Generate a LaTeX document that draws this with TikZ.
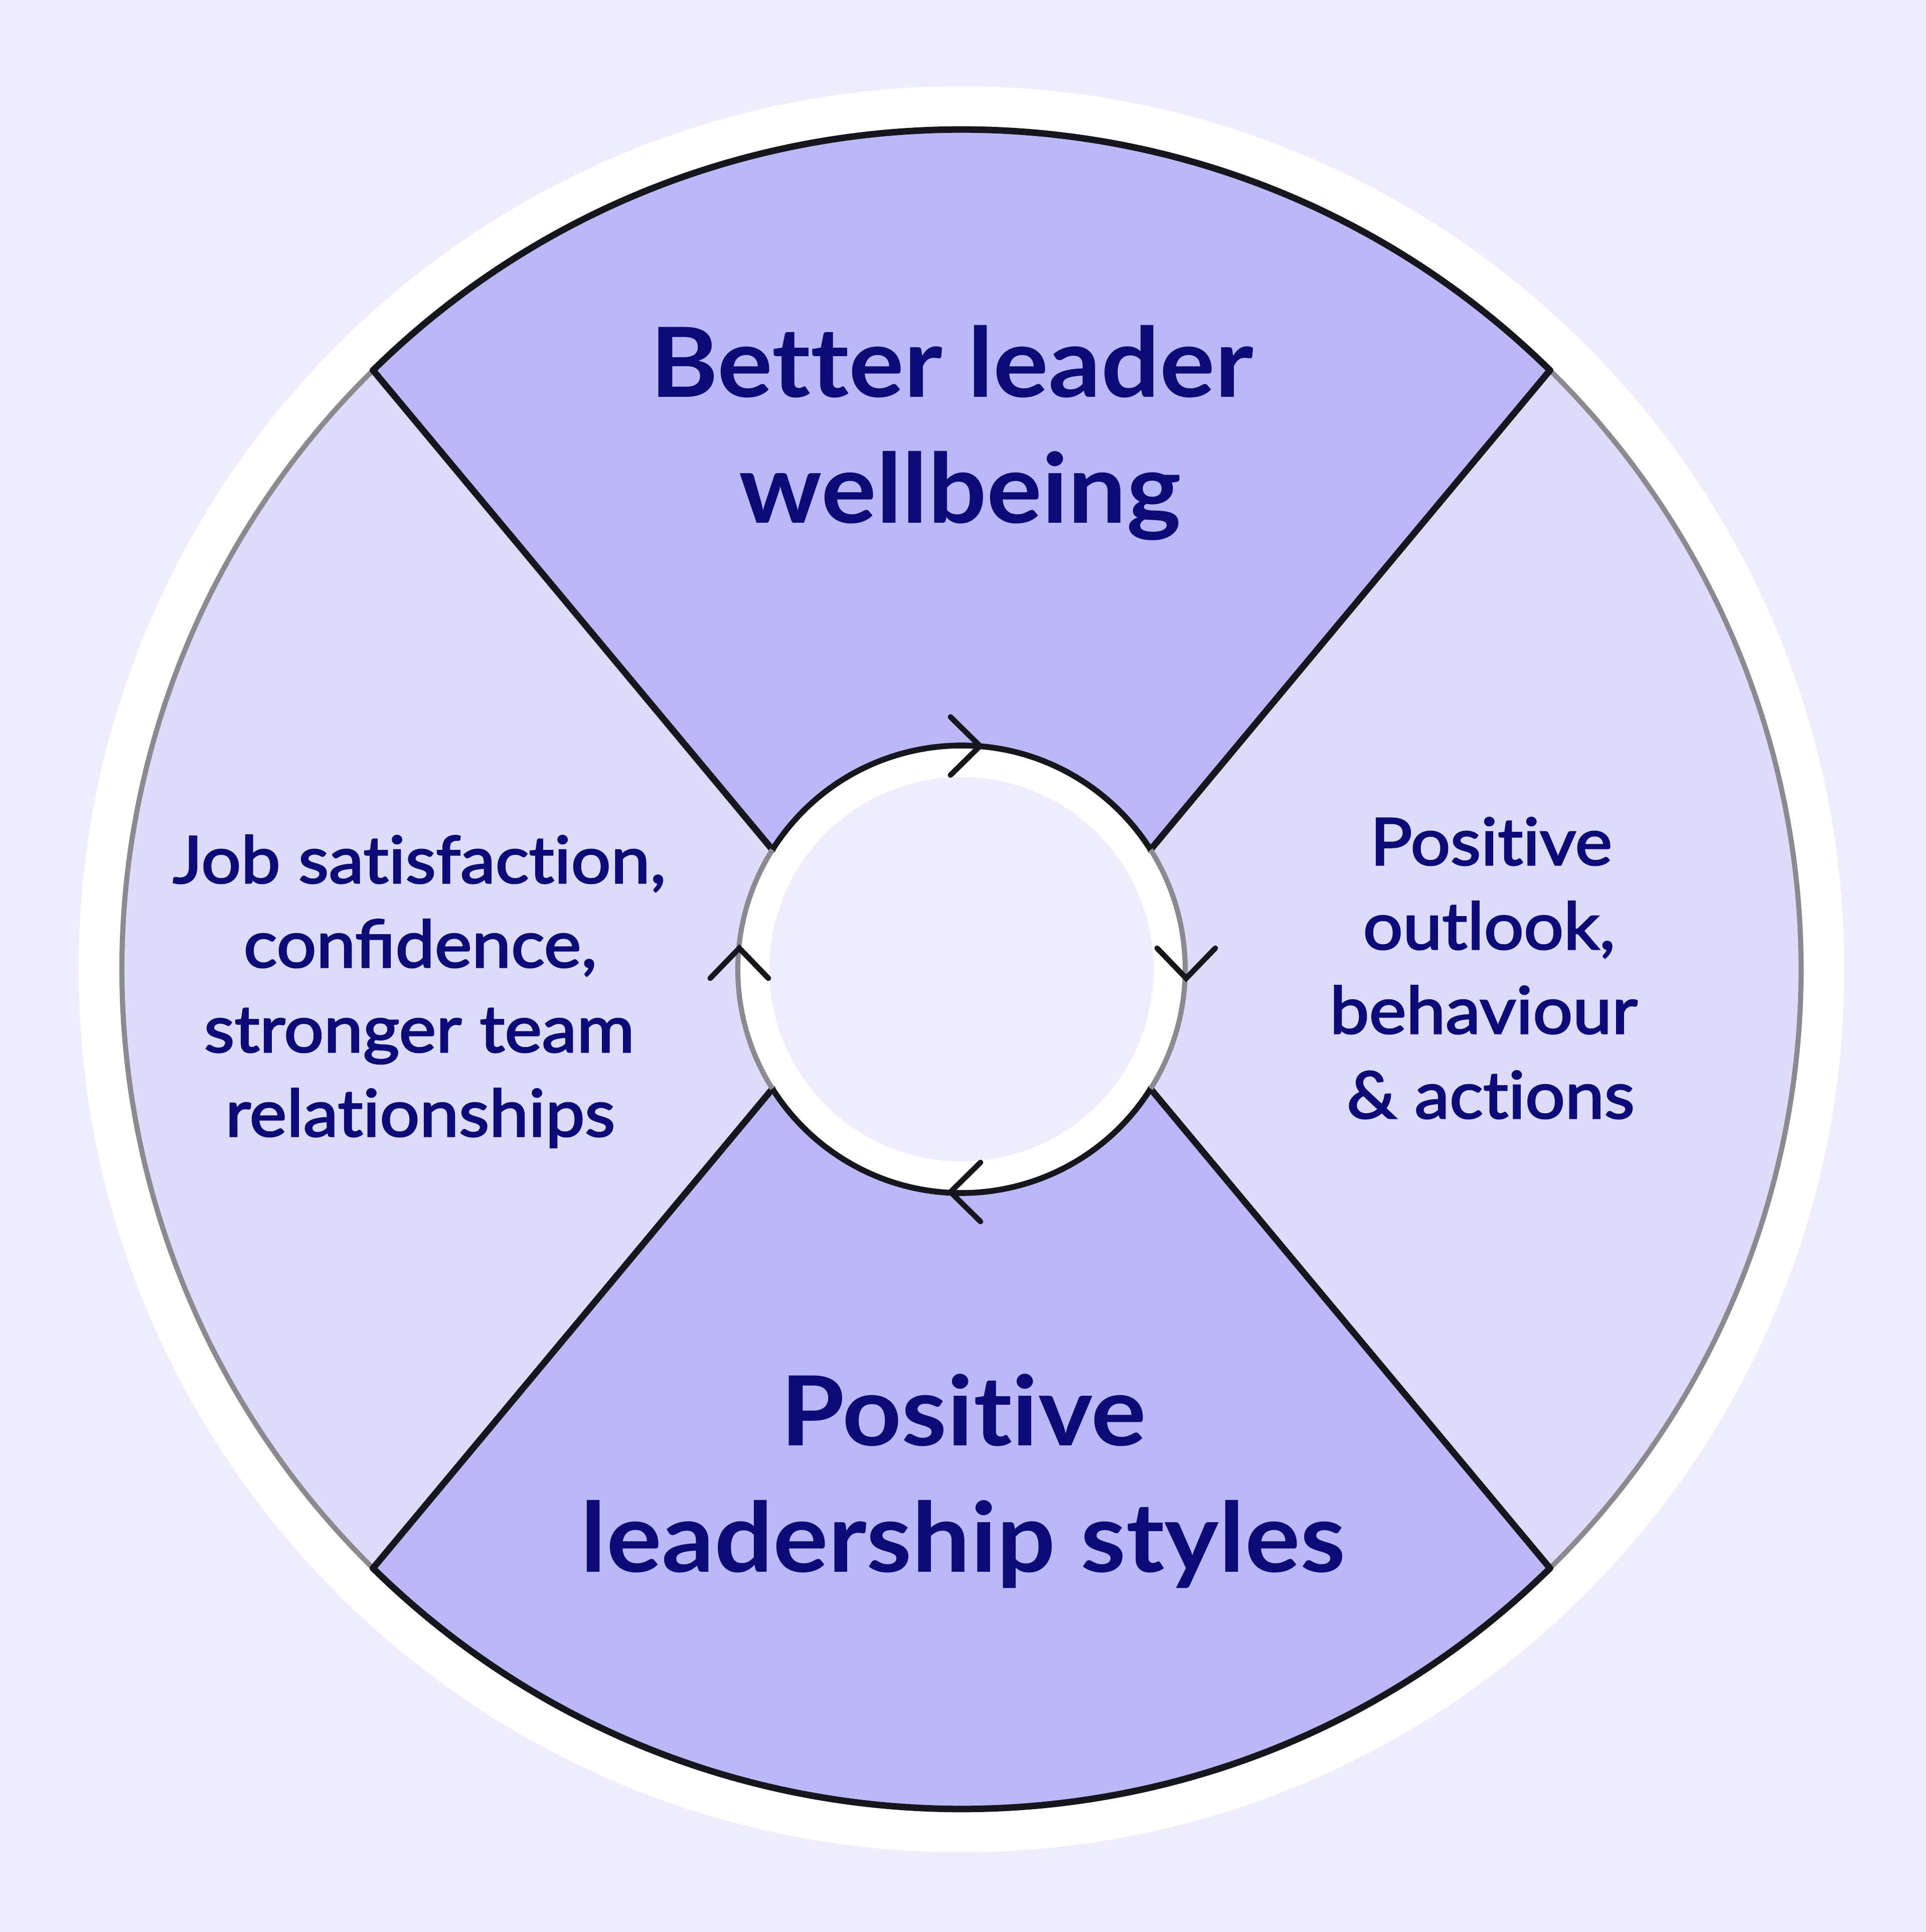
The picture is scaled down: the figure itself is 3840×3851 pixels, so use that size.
\documentclass[tikz,border=0pt]{standalone}
\usepackage{fontspec}
\setmainfont{Lato}
\newfontfamily\titlefont[FakeStretch=1.07,Ligatures=NoCommon]{Lato}
\newfontfamily\sidefont[FakeBold=2.4,FakeStretch=1.08,Ligatures=NoCommon]{Lato}
\definecolor{bgc}{HTML}{EEEDFD}
\definecolor{lightsec}{HTML}{DDDBFA}
\definecolor{darksec}{HTML}{BBB8F8}
\definecolor{inkc}{HTML}{16161E}
\definecolor{greyc}{HTML}{8A8A90}
\definecolor{navy}{HTML}{0C0B77}
\tikzset{
  blackline/.style={draw=inkc, line width=3.7pt, line cap=round, line join=round},
  innerblack/.style={draw=inkc, line width=3.3pt},
  greyline/.style={draw=greyc, line width=2.9pt},
  chev/.style={draw=inkc, line width=3.1pt, line cap=round, line join=miter},
  titletext/.style={text=navy, inner sep=0pt, anchor=base, font=\titlefont\fontsize{54.8pt}{71pt}\selectfont\bfseries},
  sidetext/.style={text=navy, inner sep=0pt, anchor=base, font=\sidefont\fontsize{36.9pt}{48pt}\selectfont}
}
\begin{document}
\begin{tikzpicture}[x=0.01cm,y=0.01cm]
\fill[bgc] (-1917,-1919) rectangle (1923,1932);
\useasboundingbox (-1917,-1919) rectangle (1923,1932);
% outer white ring and disc
\fill[white] (0,0) circle (1760);
\fill[lightsec] (0,0) circle (1674);
% key points
\coordinate (OTL) at (134.5:1674);
\coordinate (OTR) at (45.5:1674);
\coordinate (OBL) at (225.5:1674);
\coordinate (OBR) at (314.5:1674);
\coordinate (ITL) at (147.7:446);
\coordinate (ITR) at (32.3:446);
\coordinate (IBL) at (212.3:446);
\coordinate (IBR) at (327.7:446);
% dark sectors
\fill[darksec] (ITL) -- (OTL) arc[start angle=134.5, end angle=45.5, radius=1674] -- (ITR) arc[start angle=32.3, end angle=147.7, radius=446] -- cycle;
\fill[darksec] (IBL) -- (OBL) arc[start angle=225.5, end angle=314.5, radius=1674] -- (IBR) arc[start angle=327.7, end angle=212.3, radius=446] -- cycle;
% inner hub
\fill[white] (0,0) circle (446);
\fill[bgc] (0,0) circle (383);
% outer strokes
\draw[greyline] (OTR) arc[start angle=45.5, end angle=-45.5, radius=1674];
\draw[greyline] (OBL) arc[start angle=225.5, end angle=134.5, radius=1674];
\draw[blackline] (OTL) arc[start angle=134.5, end angle=45.5, radius=1674];
\draw[blackline] (OBR) arc[start angle=314.5, end angle=225.5, radius=1674];
% dividing lines
\draw[blackline] (OTL) -- (ITL);
\draw[blackline] (OTR) -- (ITR);
\draw[blackline] (OBL) -- (IBL);
\draw[blackline] (OBR) -- (IBR);
% inner strokes
\draw[greyline] (ITR) arc[start angle=32.3, end angle=-32.3, radius=446];
\draw[greyline] (IBL) arc[start angle=212.3, end angle=147.7, radius=446];
\draw[innerblack] (ITL) arc[start angle=147.7, end angle=32.3, radius=446];
\draw[innerblack] (IBR) arc[start angle=327.7, end angle=212.3, radius=446];
% chevrons (clockwise cycle)
\coordinate (cT) at (37,445);
\coordinate (cR) at (448,-18);
\coordinate (cB) at (-22,-444);
\coordinate (cL) at (-443,42);
\draw[chev] (-22,503) -- (cT) -- (-22,387);
\draw[chev] (390,42) -- (cR) -- (506,42);
\draw[chev] (38,-385) -- (cB) -- (38,-503);
\draw[chev] (-501,-18) -- (cL) -- (-385,-18);
% texts
\node[titletext] (t1) at (-19,1140) {Better leader};
\node[titletext] (t2) at (-3,889) {wellbeing};
\node[titletext] (b1) at (4,-949) {Positive};
\node[titletext] (b2) at (3,-1201) {leadership styles};
\node[sidetext] (l1) at (-1081,172) {Job satisfaction,};
\node[sidetext] (l2) at (-1079,4) {con^^^^fb01dence,};
\node[sidetext] (l3) at (-1081,-165) {stronger team};
\node[sidetext] (l4) at (-1079,-333) {relationships};
\node[sidetext] (r1) at (1056,208) {Positive};
\node[sidetext] (r2) at (1052,40) {outlook,};
\node[sidetext] (r3) at (1041,-128) {behaviour};
\node[sidetext] (r4) at (1055,-297) {\& actions};
\end{tikzpicture}
\end{document}
